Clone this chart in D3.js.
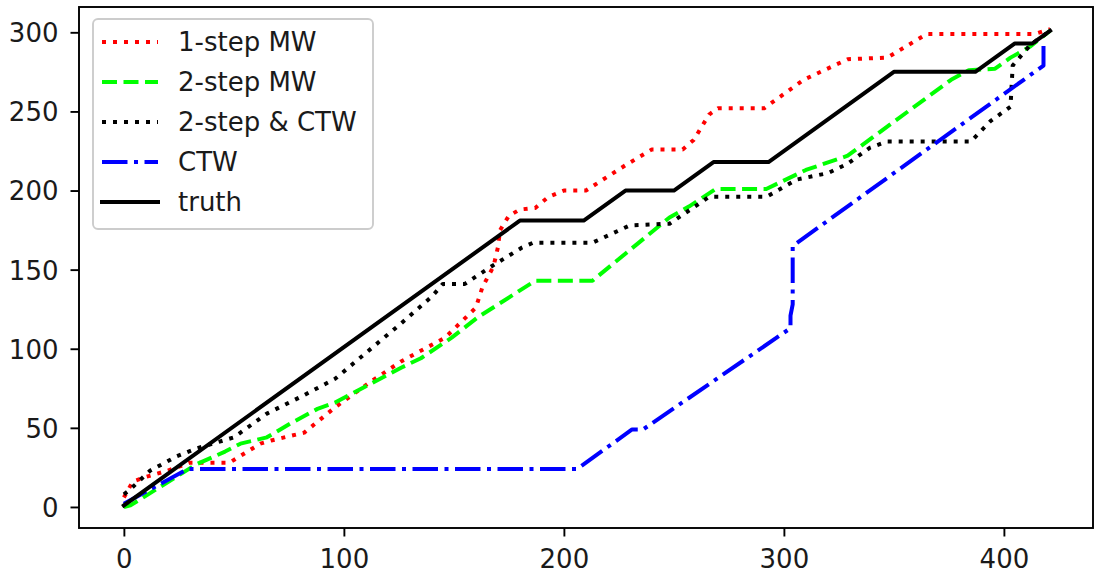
<!DOCTYPE html>
<html>
<head>
<meta charset="utf-8">
<script src="https://cdn.jsdelivr.net/npm/d3@7"></script>
<style>
  html, body { margin: 0; padding: 0; background: #fff; }
  svg { display: block; font-family: "DejaVu Sans", sans-serif; }
</style>
</head>
<body>
<svg id="chart" width="1094" height="575"></svg>
<script>
// Cumulative counts per series: [step, count]
const truth = [[0,1],[180,181],[209,181],[228,200],[250,200],[268,218],[293,218],[350,275],[387,275],[405,293],[413,293],[421,301]];

const oneStepMW = [[0,6],[4,16],[10,19],[20,23],[30,28],[48,28],[55,34],[62,40],[67,42],[82,47],[96,63],[111,78],[126,92],[146,107],[160,126],[163,139],[168,152],[170,164],[171,175],[175,184],[180,188],[187,189],[193,196],[200,200],[210,200],[228,216],[240,226],[254,226],[259,232],[266,248],[270,252],[291,252],[300,261],[309,270],[329,283],[347,284],[365,299],[414,299],[421,302]];

const twoStepMW = [[0,0],[3,1],[33,27],[46,35],[53,40],[65,44],[76,53],[88,62],[96,66],[126,88],[135,94],[149,107],[161,120],[187,143],[213,143],[248,183],[257,190],[269,201],[292,201],[307,211],[310,213],[329,222],[376,270],[384,276],[396,277],[403,284],[412,291],[421,301]];

const twoStepCTW = [[0,8],[2,10],[12,23],[24,32],[33,37],[50,44],[65,59],[81,70],[96,81],[126,116],[140,133],[145,141],[155,141],[167,152],[181,164],[186,167],[213,167],[230,178],[248,179],[266,196],[292,196],[306,207],[320,211],[329,217],[339,227],[347,231],[385,231],[394,244],[403,253],[404,279],[412,292],[421,301]];

const ctw = [[0,2],[29,24],[206,24],[231,49],[236,49],[303,113],[303,121],[304,128],[304,165],[418,279],[418,294]];

const xTicks = [0, 100, 200, 300, 400];
const yTicks = [0, 50, 100, 150, 200, 250, 300];

const seriesNames = ["1-step MW", "2-step MW", "2-step & CTW", "CTW", "truth"];
const seriesData = [oneStepMW, twoStepMW, twoStepCTW, ctw, truth];
const seriesColors = ["#ff0000", "#00ff00", "#000000", "#0000ff", "#000000"];
const seriesDash = ["4,7", "15,6.5", "4,7", "25.5,6.5,4,6.5", null];

// Layout
const plot = { left: 79, right: 1093, top: 7, bottom: 528 };
const FONT = 26;

const svg = d3.select("#chart");

const x = d3.scaleLinear().domain([-20.4, 440.5]).range([plot.left, plot.right]);
const y = d3.scaleLinear().domain([-13.3, 316]).range([plot.bottom, plot.top]);

svg.append("defs").append("clipPath").attr("id", "plotArea")
  .append("rect")
  .attr("x", plot.left).attr("y", plot.top)
  .attr("width", plot.right - plot.left).attr("height", plot.bottom - plot.top);

// Series lines
const line = d3.line().x(d => x(d[0])).y(d => y(d[1]));
const linesG = svg.append("g").attr("clip-path", "url(#plotArea)");
seriesData.forEach((data, i) => {
  linesG.append("path")
    .datum(data)
    .attr("d", line)
    .attr("fill", "none")
    .attr("stroke", seriesColors[i])
    .attr("stroke-width", 4)
    .attr("stroke-linejoin", "round")
    .attr("stroke-linecap", seriesDash[i] ? "butt" : "square")
    .attr("stroke-dasharray", seriesDash[i]);
});

// Axes
const xAxis = d3.axisBottom(x).tickValues(xTicks).tickSize(8.5).tickPadding(11.5).tickFormat(d3.format("d"));
const yAxis = d3.axisLeft(y).tickValues(yTicks).tickSize(8.5).tickPadding(12).tickFormat(d3.format("d"));

const gx = svg.append("g").attr("transform", `translate(0,${plot.bottom})`).call(xAxis);
const gy = svg.append("g").attr("transform", `translate(${plot.left},0)`).call(yAxis);

[gx, gy].forEach(g => {
  g.select(".domain").remove();
  g.selectAll(".tick line").attr("stroke", "#000").attr("stroke-width", 1.9);
  g.selectAll(".tick text").attr("fill", "#1a1a1a").attr("font-size", FONT)
    .attr("font-family", "DejaVu Sans, sans-serif");
});
gy.selectAll(".tick text").attr("dy", "0.36em");
gx.selectAll(".tick text").attr("dy", "0.76em");

// Frame
svg.append("rect")
  .attr("x", plot.left).attr("y", plot.top)
  .attr("width", plot.right - plot.left).attr("height", plot.bottom - plot.top)
  .attr("fill", "none").attr("stroke", "#000").attr("stroke-width", 1.9);

// Legend
const legend = { x: 93, y: 19, w: 280, h: 210, rowY0: 42, rowStep: 40, handleX0: 102, handleX1: 158, textX: 178 };
const lg = svg.append("g");
lg.append("rect")
  .attr("x", legend.x).attr("y", legend.y)
  .attr("width", legend.w).attr("height", legend.h)
  .attr("rx", 5).attr("ry", 5)
  .attr("fill", "#fff").attr("fill-opacity", 0.8)
  .attr("stroke", "#cccccc").attr("stroke-width", 1.9);

seriesNames.forEach((name, i) => {
  const cy = legend.rowY0 + i * legend.rowStep;
  lg.append("line")
    .attr("x1", legend.handleX0).attr("x2", legend.handleX1)
    .attr("y1", cy).attr("y2", cy)
    .attr("stroke", seriesColors[i])
    .attr("stroke-width", 4)
    .attr("stroke-linecap", seriesDash[i] ? "butt" : "square")
    .attr("stroke-dasharray", seriesDash[i]);
  lg.append("text")
    .attr("x", legend.textX).attr("y", cy)
    .attr("dy", "0.36em")
    .attr("font-size", FONT)
    .attr("fill", "#1a1a1a")
    .text(name);
});
</script>
</body>
</html>
